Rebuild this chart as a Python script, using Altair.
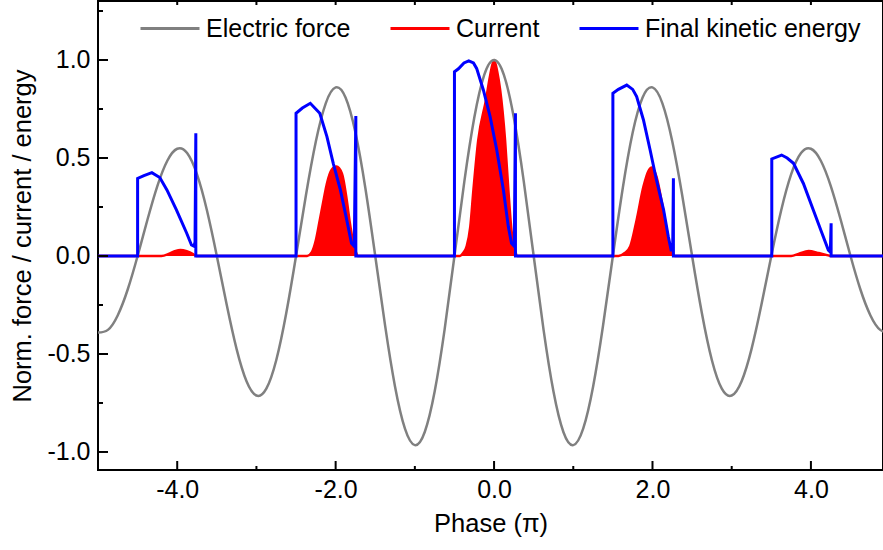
import altair as alt
import pandas as pd

# ---- Electric force (gray), sampled every 0.125 pi from -5 to 5
force_x = [round(-5 + 0.125 * i, 3) for i in range(81)]
force_half = [-0.390, -0.377, -0.302, -0.171, 0.0, 0.186, 0.358, 0.486, 0.547,
              0.525, 0.416, 0.233, 0.0, -0.249, -0.475, -0.639, -0.712, -0.677,
              -0.532, -0.295, 0.0, 0.310, 0.584, 0.779, 0.860, 0.809, 0.630,
              0.347, 0.0, -0.357, -0.667, -0.881, -0.965, -0.898, -0.692, -0.377,
              0.0, 0.381, 0.705, 0.923, 1.000]
force_y = force_half + force_half[-2::-1]

# ---- Current (red area)
current_x = [-5.0, -4.20, -4.10, -4.02, -3.96, -3.88, -3.80, -3.76,
             -2.36, -2.30, -2.25, -2.20, -2.15, -2.11, -2.05, -1.99, -1.92, -1.86, -1.82, -1.775, -1.74, -1.72,
             -0.43, -0.39, -0.345, -0.30, -0.26, -0.20, -0.10, -0.05, 0.0, 0.04, 0.076, 0.139, 0.18, 0.22, 0.265, 0.29,
             1.57, 1.65, 1.72, 1.80, 1.886, 1.95, 1.99, 2.05, 2.12, 2.18, 2.22, 2.26, 2.28,
             3.75, 3.85, 3.97, 4.10, 4.22, 4.25, 5.0]
current_y = [0.0, 0.0, 0.012, 0.026, 0.03, 0.024, 0.01, 0.0,
             0.0, 0.02, 0.08, 0.184, 0.29, 0.37, 0.44, 0.456, 0.42, 0.286, 0.167, 0.065, 0.015, 0.0,
             0.0, 0.015, 0.05, 0.15, 0.34, 0.59, 0.80, 0.92, 1.0, 0.94, 0.85, 0.59, 0.34, 0.13, 0.03, 0.0,
             0.0, 0.015, 0.05, 0.184, 0.354, 0.435, 0.452, 0.405, 0.269, 0.133, 0.05, 0.01, 0.0,
             0.0, 0.012, 0.025, 0.015, 0.003, 0.0, 0.0]

# ---- Final kinetic energy (blue line)
energy_x = [-5.0, -4.50, -4.50, -4.42, -4.32, -4.22, -4.13, -4.01, -3.88, -3.82, -3.79, -3.775, -3.765, -3.765,
            -2.50, -2.50, -2.42, -2.32, -2.20, -2.11, -2.03, -1.94, -1.86, -1.80, -1.765, -1.745, -1.745,
            -0.50, -0.50, -0.45, -0.38, -0.32, -0.26, -0.22, -0.135, -0.05, 0.034, 0.118, 0.18, 0.22, 0.255, 0.27, 0.27,
            1.50, 1.50, 1.57, 1.675, 1.75, 1.80, 1.886, 1.97, 2.05, 2.14, 2.20, 2.235, 2.255, 2.264, 2.264,
            3.506, 3.506, 3.63, 3.70, 3.78, 3.905, 4.03, 4.14, 4.22, 4.245, 4.255, 4.255, 5.0]
energy_y = [0.0, 0.0, 0.396, 0.41, 0.425, 0.40, 0.337, 0.235, 0.116, 0.056, 0.05, 0.07, 0.626, 0.0,
            0.0, 0.728, 0.755, 0.779, 0.728, 0.609, 0.473, 0.337, 0.184, 0.065, 0.05, 0.714, 0.0,
            0.0, 0.94, 0.955, 0.985, 0.996, 0.985, 0.957, 0.847, 0.711, 0.541, 0.337, 0.15, 0.065, 0.05, 0.728, 0.0,
            0.0, 0.83, 0.85, 0.872, 0.85, 0.813, 0.694, 0.541, 0.388, 0.235, 0.098, 0.03, 0.03, 0.396, 0.0,
            0.0, 0.495, 0.515, 0.50, 0.473, 0.37, 0.235, 0.116, 0.03, 0.02, 0.167, 0.0, 0.0]

# ---- axis ticks
x_major = [-4, -2, 0, 2, 4]
x_minor = [-3, -1, 1, 3]
x_top = [-4, -3, -2, -1, 0, 1, 2, 3, 4]
y_major = [-1.0, -0.5, 0.0, 0.5, 1.0]
y_minor = [-0.75, -0.25, 0.25, 0.75, 1.25]

series = ["Electric force", "Current", "Final kinetic energy"]
colors = ["#808080", "#ff0000", "#0000ff"]

FONT = "Liberation Sans"
W, H = 785, 469

df_force = pd.DataFrame({"x": force_x, "y": force_y, "series": series[0]})
df_cur = pd.DataFrame({"x": current_x, "y": current_y, "series": series[1]})
df_en = pd.DataFrame({"x": energy_x, "y": energy_y, "series": series[2],
                      "i": list(range(len(energy_x)))})

xs = alt.Scale(domain=[-5, 4.91], nice=False, zero=False)
ys = alt.Scale(domain=[-1.092, 1.301], nice=False, zero=False)
lab = "(datum.value < 0 ? '-' : '') + format(abs(datum.value), '.1f')"
xax = alt.Axis(title="Phase (π)", values=x_major, labelExpr=lab, ticks=False,
               domain=False, grid=False, labelPadding=7, titlePadding=9)
yax = alt.Axis(title="Norm. force / current / energy", values=y_major, labelExpr=lab,
               ticks=False, domain=False, grid=False, labelPadding=8, titlePadding=11)
X = alt.X("x:Q", scale=xs, axis=xax)
Y = alt.Y("y:Q", scale=ys, axis=yax)

legend = alt.Legend(orient="none", legendX=41, legendY=-3.5, direction="horizontal",
                    title=None, symbolType="stroke", symbolSize=3481, symbolStrokeWidth=3,
                    labelFontSize=25, labelFont=FONT, labelColor="black", labelOffset=5,
                    labelLimit=0, columnPadding=33, padding=0)
C = alt.Color("series:N", scale=alt.Scale(domain=series, range=colors), legend=legend)

area = alt.Chart(df_cur).mark_area(color="#ff0000", interpolate="monotone", clip=True).encode(
    x=X, y=Y, y2=alt.datum(0))
cur_line = alt.Chart(df_cur).mark_line(strokeWidth=2.5, interpolate="monotone", clip=True).encode(
    x=X, y=Y, color=C)
force_line = alt.Chart(df_force).mark_line(strokeWidth=2.5, interpolate="natural", clip=True).encode(
    x=X, y=Y, color=C)
en_line = alt.Chart(df_en).mark_line(strokeWidth=3, clip=True).encode(
    x=X, y=Y, color=C, order=alt.Order("i:Q"))

def xrule(vals, y1, y2):
    return alt.Chart(pd.DataFrame({"x": vals})).mark_rule(color="black", strokeWidth=2).encode(
        x=X, y=alt.value(y1), y2=alt.value(y2))

def yrule(vals, x1, x2):
    return alt.Chart(pd.DataFrame({"y": vals})).mark_rule(color="black", strokeWidth=2).encode(
        y=Y, x=alt.value(x1), x2=alt.value(x2))

ticks = [xrule(x_major, H, H - 9), xrule(x_minor, H, H - 4), xrule(x_top, 0, 4),
         yrule(y_major, 0, 10), yrule(y_minor, 0, 5)]

chart = alt.layer(area, cur_line, force_line, en_line, *ticks).properties(
    width=W, height=H, autosize="none",
    padding={"left": 98, "top": 1, "right": 0, "bottom": 80}
).configure_view(stroke="black", strokeWidth=2).configure_axis(
    labelFont=FONT, labelFontSize=25, labelColor="black",
    titleFont=FONT, titleFontSize=25.5, titleFontWeight="normal", titleColor="black"
)

chart.save("out.html", embed_options={"renderer": "svg", "actions": False})
